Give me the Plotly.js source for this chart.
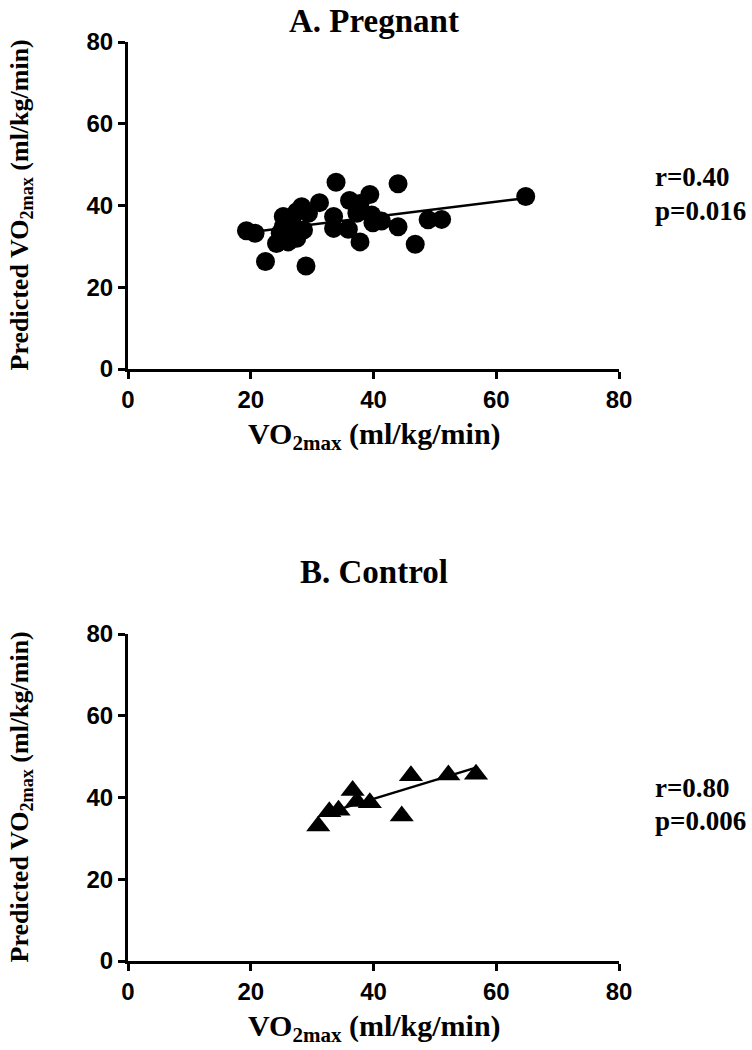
<!DOCTYPE html>
<html>
<head>
<meta charset="utf-8">
<script src="https://cdn.plot.ly/plotly-3.0.1.min.js"></script>
<style>html,body{margin:0;padding:0;background:#fff;}#chart{width:752px;height:1050px;}</style>
</head>
<body>
<div id="chart"></div>
<script>
// Panel A: Pregnant (n = 36)
const pregnantX = [19.3, 20.7, 22.4, 29.0, 24.2, 33.9, 44.0, 64.8, 46.8, 48.9, 51.1, 44.0, 41.3, 39.9, 37.8, 39.4, 36.1, 37.8,
                   33.5, 33.5, 35.9, 37.3, 31.2, 28.3, 25.3, 25.3, 26.1, 27.5, 28.6, 26.7, 27.5, 29.4, 24.8, 27.0, 39.7, 26.0];
const pregnantY = [33.8, 33.2, 26.3, 25.2, 30.7, 45.7, 45.3, 42.2, 30.5, 36.5, 36.6, 34.8, 36.2, 35.8, 31.1, 42.7, 41.2, 40.5,
                   37.3, 34.4, 34.2, 38.1, 40.7, 39.7, 37.3, 34.8, 31.1, 32.0, 34.0, 36.5, 38.5, 38.1, 33.2, 34.0, 37.7, 35.8];
const pregnantFitX = [20.0, 64.8];
const pregnantFitY = [33.5, 41.8];

// Panel B: Control (n = 10)
const controlX = [31.0, 32.8, 34.3, 36.6, 37.3, 39.4, 44.6, 46.1, 52.2, 56.7];
const controlY = [33.0, 36.5, 36.9, 41.7, 39.0, 38.7, 35.5, 45.3, 45.5, 45.7];
const controlFitX = [31.3, 56.7];
const controlFitY = [35.7, 47.3];

const tickVals = [0, 20, 40, 60, 80];
const tickText = ['0', '20', '40', '60', '80'];
const panelTitles = ['A. Pregnant', 'B. Control'];
const statsA = ['r=0.40', 'p=0.016'];
const statsB = ['r=0.80', 'p=0.006'];
const xTitle = 'VO<sub>2max</sub> (ml/kg/min)';
const yTitle = 'Predicted VO<sub>2max</sub> (ml/kg/min)';

const W = 752, H = 1050;
const serif = '"Liberation Serif", "Times New Roman", Times, serif';
const narrow = '"Liberation Sans Narrow", "Arial Narrow", "Liberation Sans", Arial, sans-serif';

const px = v => v / W;
const py = v => 1 - v / H;

const traces = [
  {x: pregnantX, y: pregnantY, xaxis: 'x', yaxis: 'y', type: 'scatter', mode: 'markers',
   marker: {symbol: 'circle', size: 19, color: '#000'}, hoverinfo: 'x+y'},
  {x: pregnantFitX, y: pregnantFitY, xaxis: 'x', yaxis: 'y', type: 'scatter', mode: 'lines',
   line: {color: '#000', width: 2.5}, hoverinfo: 'skip'},
  {x: controlX, y: controlY, xaxis: 'x2', yaxis: 'y2', type: 'scatter', mode: 'markers',
   marker: {symbol: 'triangle-up', size: 21, color: '#000'}, hoverinfo: 'x+y'},
  {x: controlFitX, y: controlFitY, xaxis: 'x2', yaxis: 'y2', type: 'scatter', mode: 'lines',
   line: {color: '#000', width: 2.5}, hoverinfo: 'skip'}
];

function axisBase(extra) {
  return Object.assign({
    range: [0, 80], tickvals: tickVals, ticktext: tickText,
    showline: true, linecolor: '#000', linewidth: 3,
    ticks: 'outside', ticklen: 7, tickwidth: 3, tickcolor: '#000',
    showgrid: false, zeroline: false, fixedrange: true,
    tickfont: {family: narrow, size: 24, color: '#000', weight: 'bold'}
  }, extra);
}

const xDom = [px(128), px(619)];
const layout = {
  width: W, height: H,
  margin: {l: 0, r: 0, t: 0, b: 0},
  paper_bgcolor: '#fff', plot_bgcolor: '#fff',
  showlegend: false,
  xaxis: axisBase({domain: xDom, anchor: 'y'}),
  yaxis: axisBase({domain: [py(369), py(42)], anchor: 'x'}),
  xaxis2: axisBase({domain: xDom, anchor: 'y2'}),
  yaxis2: axisBase({domain: [py(961), py(634)], anchor: 'x2'}),
  annotations: []
};

function ann(text, x, y, size, opts) {
  return Object.assign({
    text: text, xref: 'paper', yref: 'paper', x: px(x), y: py(y),
    xanchor: 'center', yanchor: 'middle', showarrow: false,
    font: {family: serif, size: size, color: '#000', weight: 'bold'}
  }, opts || {});
}

const panels = [
  {title: panelTitles[0], top: 42, bottom: 369, titleY: 21, stats: statsA, statY: [177, 211]},
  {title: panelTitles[1], top: 634, bottom: 961, titleY: 572, stats: statsB, statY: [788, 821]}
];
panels.forEach(p => {
  layout.annotations.push(ann(p.title, 374, p.titleY, 33));
  layout.annotations.push(ann(xTitle, 374, p.bottom + 67, 30));
  layout.annotations.push(ann(yTitle, 20, (p.top + p.bottom) / 2, 26, {textangle: -90}));
  layout.annotations.push(ann(p.stats[0], 653, p.statY[0], 27, {xanchor: 'left'}));
  layout.annotations.push(ann(p.stats[1], 653, p.statY[1], 27, {xanchor: 'left'}));
});

Plotly.newPlot('chart', traces, layout, {displayModeBar: false, staticPlot: true});
</script>
</body>
</html>
